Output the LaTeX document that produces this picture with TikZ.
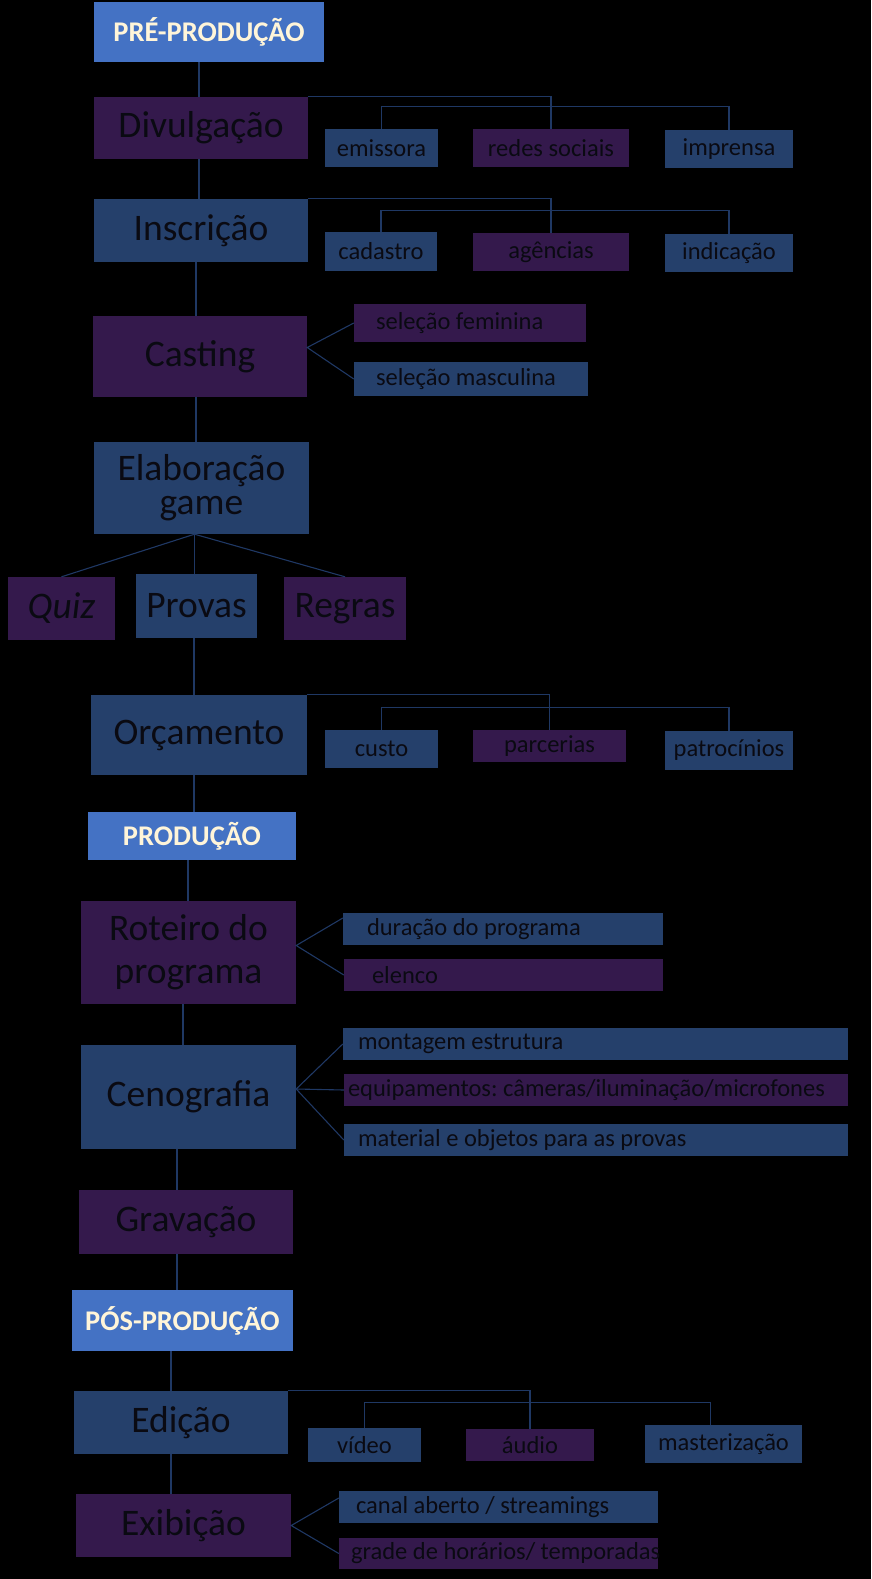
\documentclass[tikz,border=0pt]{standalone}
\usepackage{fontspec}
\setmainfont{Carlito}
\usetikzlibrary{positioning}
\definecolor{hdrblue}{HTML}{4472C4}
\definecolor{boxblue}{HTML}{25406B}
\definecolor{boxpurple}{HTML}{34194C}
\definecolor{linkcol}{HTML}{1F3864}
\definecolor{cream}{HTML}{FFF5D9}
\definecolor{ink}{HTML}{0A0A12}
\newcommand{\leftin}[2]{\makebox[#1pt][l]{#2}}
\frenchspacing

\begin{document}
\begin{tikzpicture}[x=1pt, y=-1pt,
    header/.style={fill=hdrblue, text=cream, inner sep=0pt,
                   font=\bfseries\fontsize{28.5}{30}\selectfont},
    stage/.style={fill=#1, text=ink, inner sep=0pt, align=center,
                  font=\fontsize{37.5}{40}\selectfont},
    item/.style={fill=#1, text=ink, inner sep=0pt,
                 font=\fontsize{24.5}{26}\selectfont},
    wide/.style={fill=#1, text=ink, inner ysep=0pt,
                 font=\fontsize{24.5}{26}\selectfont},
    link/.style={draw=linkcol, line width=1.1pt}
  ]
    \fill[black] (0,0) rectangle (871,1579);
    \useasboundingbox (0,0) rectangle (871,1579);

    % Pre-producao
    \node[header, minimum width=230, minimum height=60] (pre) at (209,32) {PRÉ-PRODUÇÃO};

    \node[stage=boxpurple, minimum width=214, minimum height=62] (divul) at (201,128) {Divulgação};
    \node[item=boxblue, minimum width=113, minimum height=38] (emissora) at (381.5,148) {emissora};
    \node[item=boxpurple, minimum width=156, minimum height=38] (redes) at (551,148) {redes sociais};
    \node[item=boxblue, minimum width=128, minimum height=38] (imprensa) at (729,149) {imprensa};

    \node[stage=boxblue, minimum width=214, minimum height=63] (inscr) at (201,230.5) {Inscrição};
    \node[item=boxblue, minimum width=112, minimum height=39] (cadastro) at (381,251.5) {cadastro};
    \node[item=boxpurple, minimum width=156, minimum height=38] (agencias) at (551,252) {agências};
    \node[item=boxblue, minimum width=128, minimum height=38] (indicacao) at (729,253) {indicação};

    \node[stage=boxpurple, minimum width=214, minimum height=81] (casting) at (200,356.5) {Casting};
    \node[wide=boxpurple, inner xsep=22, minimum height=38] (fem) at (470,323) {\leftin{188}{seleção feminina}};
    \node[wide=boxblue, inner xsep=22, minimum height=34] (masc) at (471,379) {\leftin{190}{seleção masculina}};

    \node[stage=boxblue, minimum width=215, minimum height=92,
          font=\fontsize{37.5}{34}\selectfont] (elab) at (201.5,488) {Elaboração\\game};
    \node[stage=boxpurple, minimum width=107, minimum height=63] (quiz) at (61.5,608.5) {\itshape Quiz};
    \node[stage=boxblue, minimum width=121, minimum height=64] (provas) at (196.5,606) {Provas};
    \node[stage=boxpurple, minimum width=122, minimum height=63] (regras) at (345,608.5) {Regras};

    \node[stage=boxblue, minimum width=216, minimum height=80] (orc) at (199,735) {Orçamento};
    \node[item=boxblue, minimum width=113, minimum height=38] (custo) at (381.5,749) {custo};
    \node[item=boxpurple, minimum width=153, minimum height=32] (parcerias) at (549.5,746) {parcerias};
    \node[item=boxblue, minimum width=128, minimum height=39] (patroc) at (729,750.5) {patrocínios};

    % Producao
    \node[header, minimum width=208, minimum height=48] (prod) at (192,836) {PRODUÇÃO};

    \node[stage=boxpurple, minimum width=215, minimum height=103,
          font=\fontsize{37.5}{43}\selectfont] (roteiro) at (188.5,952.5) {Roteiro do\\programa};
    \node[wide=boxblue, inner xsep=24, minimum height=32] (duracao) at (503,929) {\leftin{272}{duração do programa}};
    \node[wide=boxpurple, inner xsep=28, minimum height=32] (elenco) at (503.5,975) {\leftin{263}{elenco}};

    \node[stage=boxblue, minimum width=215, minimum height=104] (ceno) at (188.5,1097) {Cenografia};
    \node[wide=boxblue, inner xsep=15, minimum height=32] (montagem) at (595.5,1044) {\leftin{475}{montagem estrutura}};
    \node[wide=boxpurple, inner xsep=4, minimum height=32] (equip) at (596,1090) {\leftin{496}{equipamentos: câmeras/iluminação/microfones}};
    \node[wide=boxblue, inner xsep=14, minimum height=32] (material) at (596,1140) {\leftin{476}{material e objetos para as provas}};

    \node[stage=boxpurple, minimum width=214, minimum height=64] (grav) at (186,1222) {Gravação};

    % Pos-producao
    \node[header, minimum width=221, minimum height=61] (pos) at (182.5,1320.5) {PÓS-PRODUÇÃO};

    \node[stage=boxblue, minimum width=214, minimum height=63] (edicao) at (181,1422.5) {Edição};
    \node[item=boxblue, minimum width=113, minimum height=34] (video) at (364.5,1445) {vídeo};
    \node[item=boxpurple, minimum width=128, minimum height=32] (audio) at (530,1445) {áudio};
    \node[item=boxblue, minimum width=157, minimum height=38] (master) at (723.5,1444) {masterização};

    \node[stage=boxpurple, minimum width=215, minimum height=63] (exib) at (183.5,1525.5) {Exibição};
    \node[wide=boxblue, inner xsep=17, minimum height=32] (canal) at (498.5,1507) {\leftin{285}{canal aberto / streamings}};
    \node[wide=boxpurple, inner xsep=12, minimum height=31] (grade) at (498.5,1553.5) {\leftin{295}{grade de horários/ temporadas}};

    % main line
    \draw[link] (pre.south -| 199,0) -- (divul.north -| 199,0);
    \draw[link] (divul.south -| 199,0) -- (inscr.north -| 199,0);
    \draw[link] (inscr.south -| 196,0) -- (casting.north -| 196,0);
    \draw[link] (casting.south -| 196,0) -- (elab.north -| 196,0);
    \draw[link] (provas.south -| 194,0) -- (orc.north -| 194,0);
    \draw[link] (orc.south -| 194,0) -- (prod.north -| 194,0);
    \draw[link] (prod.south -| 188,0) -- (roteiro.north -| 188,0);
    \draw[link] (roteiro.south -| 183,0) -- (ceno.north -| 183,0);
    \draw[link] (ceno.south -| 177,0) -- (grav.north -| 177,0);
    \draw[link] (grav.south -| 177,0) -- (pos.north -| 177,0);
    \draw[link] (pos.south -| 171,0) -- (edicao.north -| 171,0);
    \draw[link] (edicao.south -| 171,0) -- (exib.north -| 171,0);

    % branches
    \draw[link] (divul.north east) -| (redes.north);
    \draw[link] (emissora.north) -- ++(0,-22) -| (imprensa.north);
    \draw[link] (inscr.north east) -| (agencias.north);
    \draw[link] (cadastro.north) -- ++(0,-21) -| (indicacao.north);
    \draw[link] (orc.north east) -| (parcerias.north);
    \draw[link] (custo.north) -- ++(0,-22) -| (patroc.north);
    \draw[link] (edicao.north east) -| (audio.north);
    \draw[link] (video.north) -- ++(0,-25) -| ([xshift=-13pt]master.north);

    \coordinate (castfork) at ([yshift=9pt]casting.east);
    \draw[link] (fem.west) -- (castfork) -- (masc.west);
    \coordinate (elabfork) at ([xshift=-7pt]elab.south);
    \draw[link] (quiz.north) -- (elabfork) -- (regras.north);
    \draw[link] (elabfork) -- (provas.north -| elabfork);
    \coordinate (rotfork) at ([yshift=7pt]roteiro.east);
    \draw[link] ([yshift=11pt]duracao.west) -- (rotfork) -- (elenco.west);
    \coordinate (cenofork) at ([yshift=8pt]ceno.east);
    \draw[link] (montagem.west) -- (cenofork) -- (material.west);
    \draw[link] (cenofork) -- (equip.west);
    \draw[link] ([yshift=9pt]canal.west) -- (exib.east) -- (grade.west);
  \end{tikzpicture}
\end{document}
